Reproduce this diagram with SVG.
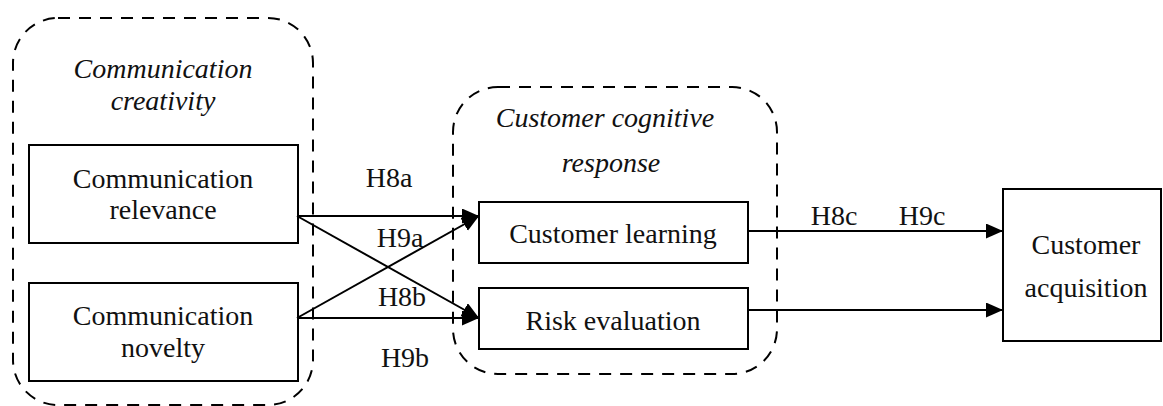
<svg xmlns="http://www.w3.org/2000/svg" width="1163" height="406" viewBox="0 0 1163 406">
  <style>
    .group { fill: none; stroke: #000; stroke-width: 2; stroke-dasharray: 12 9; }
    .box { fill: #fff; stroke: #000; stroke-width: 2; }
    .lbl { font-family: "Liberation Serif", "Times New Roman", serif; font-size: 28px; fill: #111; text-anchor: middle; }
    .ttl { font-style: italic; }
    .edge { stroke: #000; stroke-width: 2; fill: none; marker-end: url(#arrow); }
  </style>
  <defs>
    <marker id="arrow" markerUnits="userSpaceOnUse" markerWidth="18" markerHeight="16" refX="17" refY="7.5" orient="auto">
      <path d="M0,0 L17,7.5 L0,15 z" fill="#000"/>
    </marker>
  </defs>
  <rect width="1163" height="406" fill="#fff"/>

  <!-- dashed construct groupings -->
  <g id="group-creativity">
    <rect class="group" x="13" y="18" width="300" height="387" rx="45" ry="45"/>
    <text class="lbl ttl" x="163" y="78">Communication</text>
    <text class="lbl ttl" x="163" y="110">creativity</text>
  </g>
  <g id="group-cognitive">
    <rect class="group" x="453" y="87" width="324" height="287" rx="45" ry="45"/>
    <text class="lbl ttl" x="605" y="127">Customer cognitive</text>
    <text class="lbl ttl" x="611" y="172">response</text>
  </g>

  <!-- nodes -->
  <g id="node-relevance">
    <rect class="box" x="29" y="145" width="269" height="98"/>
    <text class="lbl" x="163" y="188">Communication</text>
    <text class="lbl" x="163" y="219">relevance</text>
  </g>
  <g id="node-novelty">
    <rect class="box" x="29" y="283" width="269" height="98"/>
    <text class="lbl" x="163" y="325">Communication</text>
    <text class="lbl" x="163" y="357">novelty</text>
  </g>
  <g id="node-learning">
    <rect class="box" x="479" y="202" width="269" height="61"/>
    <text class="lbl" x="613" y="243">Customer learning</text>
  </g>
  <g id="node-risk">
    <rect class="box" x="479" y="288" width="269" height="61"/>
    <text class="lbl" x="613" y="330">Risk evaluation</text>
  </g>
  <g id="node-acquisition">
    <rect class="box" x="1003" y="189" width="158" height="152"/>
    <text class="lbl" x="1086" y="254">Customer</text>
    <text class="lbl" x="1086" y="297">acquisition</text>
  </g>

  <!-- connectors -->
  <g id="connectors">
    <line class="edge" x1="297" y1="216" x2="479" y2="216"/>
    <line class="edge" x1="297" y1="216" x2="479" y2="318"/>
    <line class="edge" x1="297" y1="318" x2="479" y2="318"/>
    <line class="edge" x1="297" y1="318" x2="479" y2="216"/>
    <line class="edge" x1="748" y1="231" x2="1003" y2="231"/>
    <line class="edge" x1="748" y1="310" x2="1003" y2="310"/>
  </g>

  <!-- hypothesis labels -->
  <g id="hypotheses">
    <text class="lbl" x="389" y="187">H8a</text>
    <text class="lbl" x="400" y="247">H9a</text>
    <text class="lbl" x="402" y="306">H8b</text>
    <text class="lbl" x="405" y="367">H9b</text>
    <text class="lbl" x="834" y="225">H8c</text>
    <text class="lbl" x="922" y="225">H9c</text>
  </g>
</svg>
